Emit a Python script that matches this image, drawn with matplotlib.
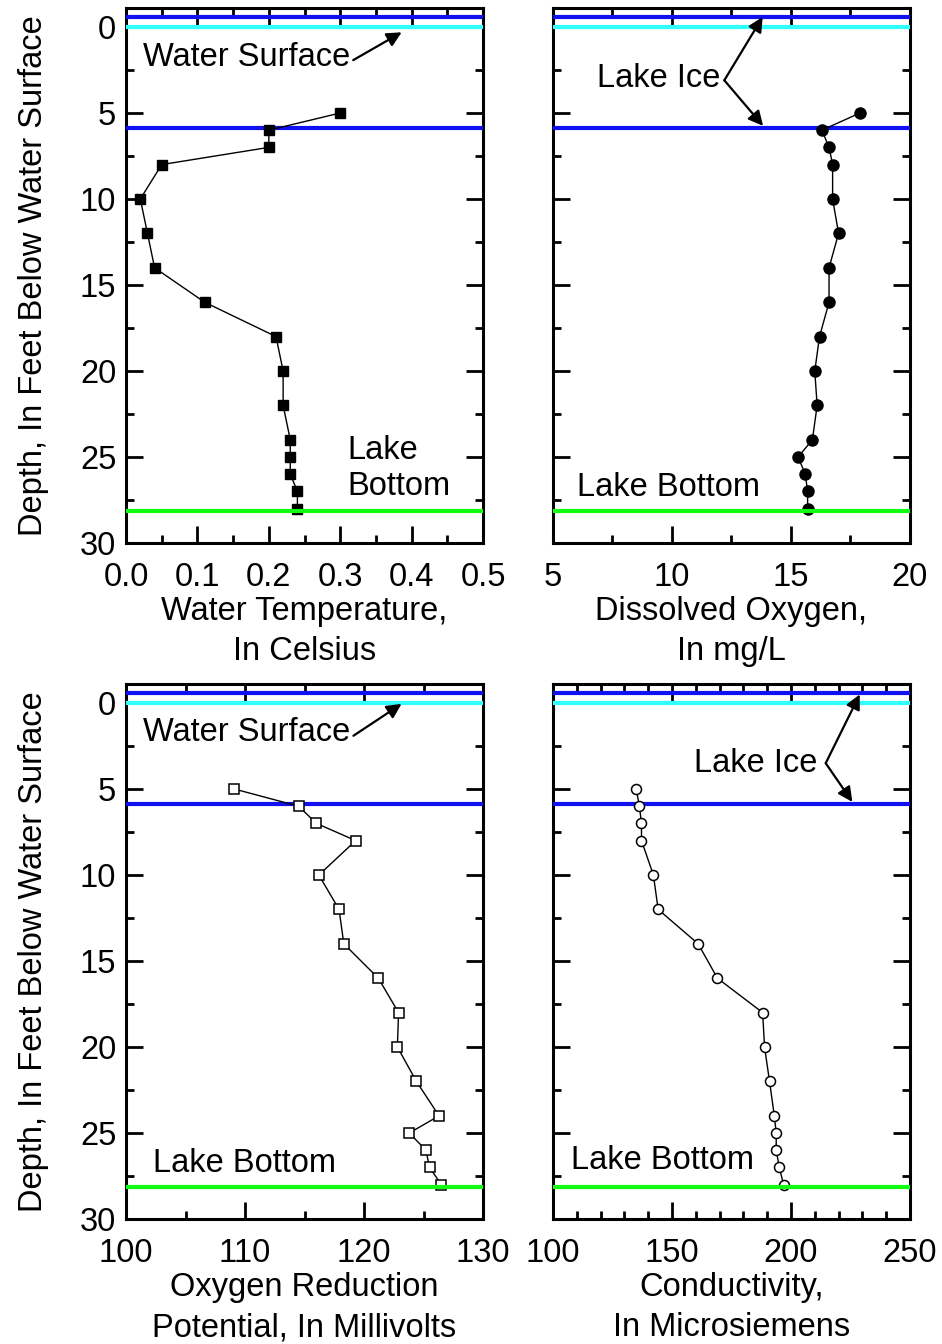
import numpy as np
import matplotlib
matplotlib.use("Agg")
import matplotlib.pyplot as plt
from matplotlib.ticker import MultipleLocator

plt.rcParams['font.family'] = ['Liberation Sans', 'DejaVu Sans']
plt.rcParams['font.size'] = 23.5

# Data
depth = [5, 6, 7, 8, 10, 12, 14, 16, 18, 20, 22, 24, 25, 26, 27, 28]
temp = [0.30, 0.20, 0.20, 0.05, 0.02, 0.03, 0.04, 0.11, 0.21, 0.22, 0.22, 0.23, 0.23, 0.23, 0.24, 0.24]
dissolved_o2 = [17.9, 16.3, 16.6, 16.75, 16.75, 17.0, 16.6, 16.6, 16.2, 16.0, 16.1, 15.9, 15.3, 15.6, 15.7, 15.7]
orp = [109.1, 114.5, 116.0, 119.3, 116.2, 117.9, 118.3, 121.2, 122.9, 122.8, 124.4, 126.3, 123.8, 125.2, 125.5, 126.5]
conductivity = [135.0, 136.3, 137.2, 137.2, 142.2, 144.2, 161.0, 169.1, 188.1, 188.9, 191.0, 193.0, 193.8, 193.8, 195.1, 196.9]

# Reference depths (feet)
ICE_TOP = -0.6
WATER_SURFACE = 0.0
ICE_BOTTOM = 5.9
LAKE_BOTTOM = 28.15

DEPTH_LIM = (30, -1.1)
YLABEL = "Depth, In Feet Below Water Surface"

fig = plt.figure(figsize=(9.42, 13.44), dpi=100)

LEFT_X, RIGHT_X, W = 0.1338, 0.587, 0.379
TOP_Y, BOT_Y, H = 0.596, 0.093, 0.398


def style_axes(ax, xlim, xmajor, xminor, show_ylabels):
    ax.set_xlim(*xlim)
    ax.set_ylim(*DEPTH_LIM)
    ax.xaxis.set_major_locator(MultipleLocator(xmajor))
    ax.xaxis.set_minor_locator(MultipleLocator(xminor))
    ax.yaxis.set_major_locator(MultipleLocator(5))
    ax.yaxis.set_minor_locator(MultipleLocator(2.5))
    ax.tick_params(which='both', direction='in', top=True, right=True, width=2)
    ax.tick_params(which='major', length=12)
    ax.tick_params(axis='x', which='major', pad=14)
    ax.tick_params(axis='y', which='major', pad=7)
    ax.tick_params(which='minor', length=6)
    for s in ax.spines.values():
        s.set_linewidth(2.2)
    if show_ylabels:
        ax.set_ylabel(YLABEL, labelpad=22)
    else:
        ax.tick_params(labelleft=False)


def ref_lines(ax):
    ax.axhline(ICE_TOP, color='#1010f0', lw=3, zorder=2.7)
    ax.axhline(WATER_SURFACE, color='#30ffff', lw=3, zorder=2.7)
    ax.axhline(ICE_BOTTOM, color='#1010f0', lw=3, zorder=2.7)
    ax.axhline(LAKE_BOTTOM, color='#10ff10', lw=3, zorder=5)


arrow = dict(arrowstyle='-|>', color='black', lw=1.6, mutation_scale=22, shrinkA=0, shrinkB=0)
XLABEL_KW = dict(linespacing=1.38, labelpad=2)

# Water temperature
ax1 = fig.add_axes([LEFT_X, TOP_Y, W, H])
ref_lines(ax1)
ax1.plot(temp, depth, color='black', lw=1, marker='s', ms=6.5, mfc='black', mec='black', zorder=4)
style_axes(ax1, (0, 0.5), 0.1, 0.05, True)
ax1.set_xticks([0, 0.1, 0.2, 0.3, 0.4, 0.5], ['0.0', '0.1', '0.2', '0.3', '0.4', '0.5'])
ax1.set_xlabel("Water Temperature,\nIn Celsius", **XLABEL_KW)
ax1.annotate("Water Surface", xy=(0.386, 0.31), xytext=(0.024, 1.75),
             va='center', ha='left', arrowprops=dict(arrow, relpos=(1.0, 0.35)))
ax1.text(0.31, 25.65, "Lake\nBottom", ha='left', va='center', linespacing=1.2)

# Dissolved oxygen
ax2 = fig.add_axes([RIGHT_X, TOP_Y, W, H])
ref_lines(ax2)
ax2.plot(dissolved_o2, depth, color='black', lw=1, marker='o', ms=8, mfc='black', mec='black', zorder=4)
style_axes(ax2, (5, 20), 5, 2.5, False)
ax2.set_xlabel("Dissolved Oxygen,\nIn mg/L", **XLABEL_KW)
ax2.text(6.85, 3.02, "Lake Ice", ha='left', va='center')
ax2.annotate("", xy=(13.81, -0.58), xytext=(12.2, 3.1), arrowprops=arrow)
ax2.annotate("", xy=(13.83, 5.75), xytext=(12.2, 3.1), arrowprops=arrow)
ax2.text(6.0, 26.75, "Lake Bottom", ha='left', va='center')

# Oxygen reduction potential
ax3 = fig.add_axes([LEFT_X, BOT_Y, W, H])
ref_lines(ax3)
ax3.plot(orp, depth, color='black', lw=1, marker='s', ms=6.7, mfc='white', mec='black', mew=1.1, zorder=4)
style_axes(ax3, (100, 130), 10, 5, True)
ax3.set_xlabel("Oxygen Reduction\nPotential, In Millivolts", **XLABEL_KW)
ax3.annotate("Water Surface", xy=(123.15, 0.05), xytext=(101.46, 1.74),
             va='center', ha='left', arrowprops=dict(arrow, relpos=(1.0, 0.35)))
ax3.text(102.24, 26.8, "Lake Bottom", ha='left', va='center')

# Conductivity
ax4 = fig.add_axes([RIGHT_X, BOT_Y, W, H])
ref_lines(ax4)
ax4.plot(conductivity, depth, color='black', lw=1, marker='o', ms=7.2, mfc='white', mec='black', mew=1.1, zorder=4)
style_axes(ax4, (100, 250), 50, 10, False)
ax4.set_xlabel("Conductivity,\nIn Microsiemens", **XLABEL_KW)
ax4.text(159.1, 3.49, "Lake Ice", ha='left', va='center')
ax4.annotate("", xy=(228.9, -0.5), xytext=(214.6, 3.5), arrowprops=arrow)
ax4.annotate("", xy=(225.8, 5.75), xytext=(214.6, 3.5), arrowprops=arrow)
ax4.text(107.7, 26.6, "Lake Bottom", ha='left', va='center')

fig.savefig("out.png", dpi=100)
